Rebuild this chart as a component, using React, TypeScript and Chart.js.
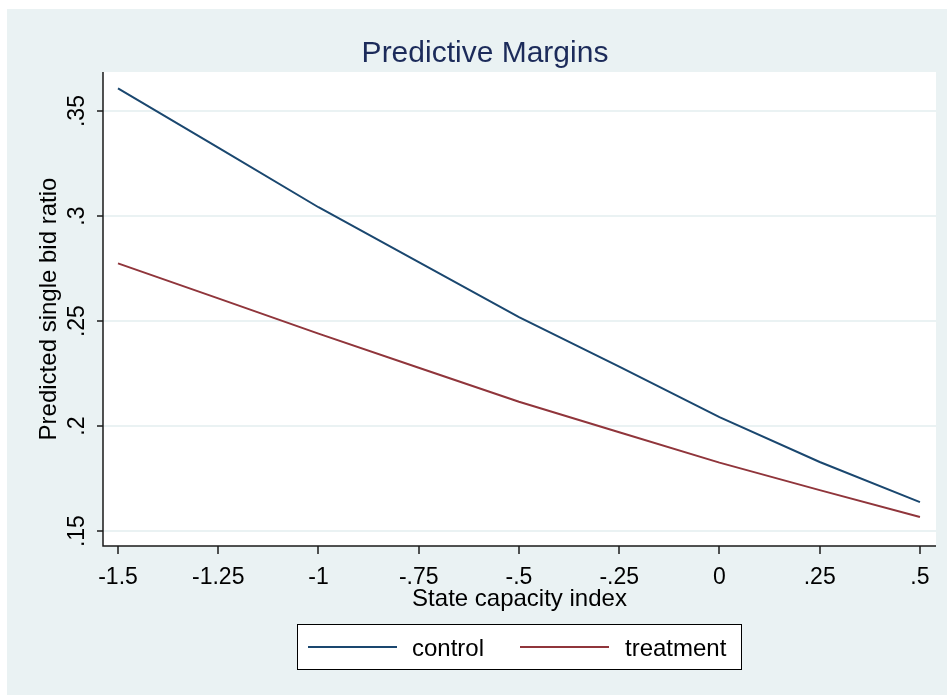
import React, { useEffect, useRef } from "react";
import { Chart, registerables } from "chart.js";

Chart.register(...registerables);

// ---- data ----
const stateCapacity = [-1.5, -1.25, -1, -0.75, -0.5, -0.25, 0, 0.25, 0.5];
const control = [0.3608, 0.3326, 0.3042, 0.2781, 0.2519, 0.2283, 0.2043, 0.1829, 0.1638];
const treatment = [0.2775, 0.2608, 0.244, 0.2278, 0.2116, 0.1971, 0.1826, 0.1695, 0.1567];
const xTickValues = [-1.5, -1.25, -1, -0.75, -0.5, -0.25, 0, 0.25, 0.5];
const xTickLabels = ["-1.5", "-1.25", "-1", "-.75", "-.5", "-.25", "0", ".25", ".5"];
const yTickValues = [0.15, 0.2, 0.25, 0.3, 0.35];
const yTickLabels = [".15", ".2", ".25", ".3", ".35"];
const seriesNames = ["control", "treatment"];
const titleText = "Predictive Margins";
const xTitle = "State capacity index";
const yTitle = "Predicted single bid ratio";

const W = 947;
const H = 695;
const BG = "#EAF2F3";
const NAVY = "#1A476F";
const MAROON = "#90353B";
const FONT = '"Liberation Sans", Arial, sans-serif';

const decorPlugin = {
  id: "stataDecor",
  beforeDraw(chart: any) {
    const ctx = chart.ctx;
    const ca = chart.chartArea;
    const xs = chart.scales.x;
    const ys = chart.scales.y;
    ctx.save();
    // backgrounds
    ctx.fillStyle = "#ffffff";
    ctx.fillRect(0, 0, W, H);
    ctx.fillStyle = BG;
    ctx.fillRect(7, 9, W - 7, H - 9);
    ctx.fillStyle = "#ffffff";
    ctx.fillRect(ca.left, ca.top, ca.right - ca.left, ca.bottom - ca.top);

    // gridlines
    ctx.strokeStyle = BG;
    ctx.lineWidth = 2;
    yTickValues.forEach((v) => {
      const py = Math.round(ys.getPixelForValue(v));
      ctx.beginPath();
      ctx.moveTo(ca.left, py);
      ctx.lineTo(ca.right, py);
      ctx.stroke();
    });

    // axes
    ctx.strokeStyle = "#1a1a1a";
    ctx.lineWidth = 1.5;
    ctx.beginPath();
    ctx.moveTo(ca.left, ca.top);
    ctx.lineTo(ca.left, ca.bottom);
    ctx.lineTo(ca.right, ca.bottom);
    ctx.stroke();

    // ticks
    yTickValues.forEach((v) => {
      const py = Math.round(ys.getPixelForValue(v));
      ctx.beginPath();
      ctx.moveTo(ca.left - 6, py);
      ctx.lineTo(ca.left, py);
      ctx.stroke();
    });
    xTickValues.forEach((v) => {
      const px = Math.round(xs.getPixelForValue(v));
      ctx.beginPath();
      ctx.moveTo(px, ca.bottom);
      ctx.lineTo(px, ca.bottom + 8);
      ctx.stroke();
    });

    // tick labels
    ctx.fillStyle = "#000000";
    ctx.font = `23px ${FONT}`;
    ctx.textAlign = "center";
    ctx.textBaseline = "alphabetic";
    xTickValues.forEach((v, i) => {
      ctx.fillText(xTickLabels[i], xs.getPixelForValue(v), 584);
    });
    yTickValues.forEach((v, i) => {
      ctx.save();
      ctx.translate(84, ys.getPixelForValue(v));
      ctx.rotate(-Math.PI / 2);
      ctx.fillText(yTickLabels[i], 0, 0);
      ctx.restore();
    });

    // axis titles
    ctx.font = `24px ${FONT}`;
    ctx.fillText(xTitle, (ca.left + ca.right) / 2, 606);
    ctx.save();
    ctx.translate(56, (ca.top + ca.bottom) / 2);
    ctx.rotate(-Math.PI / 2);
    ctx.fillText(yTitle, 0, 0);
    ctx.restore();

    // title
    ctx.fillStyle = "#1C2B5A";
    ctx.font = `30px ${FONT}`;
    ctx.fillText(titleText, 485, 62);

    // legend
    ctx.fillStyle = "#ffffff";
    ctx.fillRect(297, 624, 444, 45);
    ctx.strokeStyle = "#000000";
    ctx.lineWidth = 1;
    ctx.strokeRect(297.5, 624.5, 444, 45);
    const colors = [NAVY, MAROON];
    const lineX = [308, 520];
    const textX = [412, 625];
    ctx.lineWidth = 2;
    ctx.font = `24px ${FONT}`;
    ctx.textAlign = "left";
    seriesNames.forEach((name, i) => {
      ctx.strokeStyle = colors[i];
      ctx.beginPath();
      ctx.moveTo(lineX[i], 647);
      ctx.lineTo(lineX[i] + 89, 647);
      ctx.stroke();
      ctx.fillStyle = "#000000";
      ctx.fillText(name, textX[i], 656);
    });
    ctx.restore();
  },
};

export default function App() {
  const ref = useRef<HTMLCanvasElement | null>(null);
  useEffect(() => {
    if (!ref.current) return;
    const chart = new Chart(ref.current, {
      type: "line",
      data: {
        datasets: [
          {
            label: seriesNames[0],
            data: stateCapacity.map((x, i) => ({ x, y: control[i] })),
            borderColor: NAVY,
            borderWidth: 2,
            pointRadius: 0,
            fill: false,
            tension: 0,
          },
          {
            label: seriesNames[1],
            data: stateCapacity.map((x, i) => ({ x, y: treatment[i] })),
            borderColor: MAROON,
            borderWidth: 2,
            pointRadius: 0,
            fill: false,
            tension: 0,
          },
        ],
      },
      options: {
        responsive: false,
        animation: false,
        devicePixelRatio: 1,
        layout: { padding: { left: 103, top: 72, right: 11, bottom: 149 } },
        scales: {
          x: { type: "linear", min: -1.5374, max: 0.54, display: false },
          y: { type: "linear", min: 0.1429, max: 0.3686, display: false },
        },
        plugins: {
          legend: { display: false },
          tooltip: { enabled: false },
          title: { display: false },
        },
      },
      plugins: [decorPlugin],
    });
    return () => chart.destroy();
  }, []);
  return (
    <div style={{ position: "absolute", left: 0, top: 0, width: W, height: H }}>
      <canvas ref={ref} width={W} height={H} style={{ display: "block", width: W, height: H }} />
    </div>
  );
}
